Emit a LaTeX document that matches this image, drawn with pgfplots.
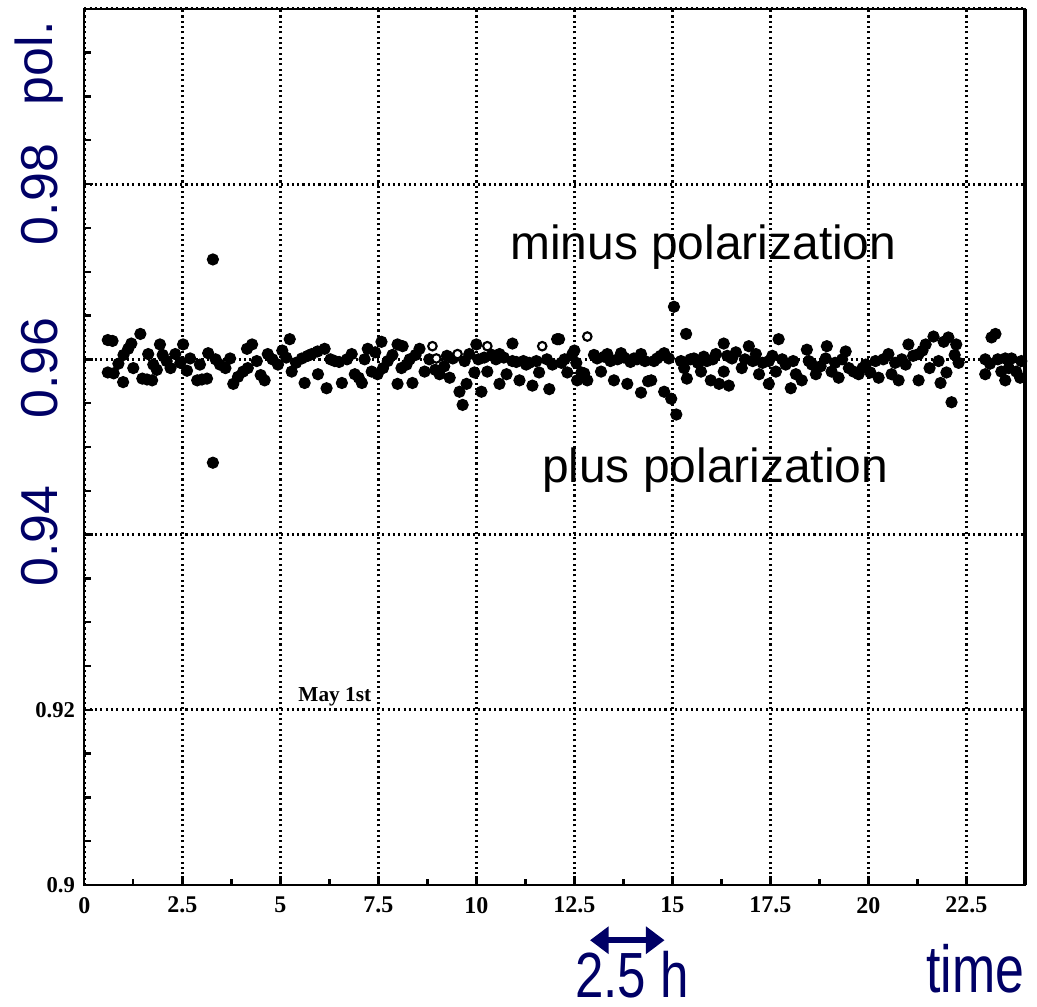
\documentclass[border=0pt]{standalone}
\usepackage{pgfplots}
\pgfplotsset{compat=1.18}
\usepackage{fontspec}
\setmainfont{Liberation Serif}
\newfontfamily\arial{Liberation Sans}
\usetikzlibrary{arrows.meta}
\definecolor{navy}{RGB}{0,0,102}

\begin{document}
\begin{tikzpicture}
\begin{axis}[
  scale only axis,
  width=353.6pt, height=329.25pt,
  xmin=0, xmax=24, ymin=0.9, ymax=1.0,
  clip=false,
  axis line style={line width=0.9pt},
  xtick={0,2.5,5,7.5,10,12.5,15,17.5,20,22.5},
  xticklabels={0,2.5,5,7.5,10,12.5,15,17.5,20,22.5},
  minor x tick num=1,
  ytick={0.9,0.92,0.94,0.96,0.98,1.0},
  yticklabels={0.9,0.92,,,,},
  minor y tick num=3,
  xtick pos=bottom, ytick pos=left,
  tick align=inside,
  major tick length=3.4pt, minor tick length=2.4pt,
  every tick/.style={line width=0.9pt, black},
  xmajorgrids, ymajorgrids,
  major grid style={line width=1.1pt, dash pattern=on 0.8pt off 1.2pt, black},
  extra x ticks={7.5,12.5},
  extra x tick labels={},
  extra x tick style={grid style={line width=1.7pt, dash pattern=on 0.9pt off 1.1pt, black}},
  /pgf/number format/assume math mode=true,
  ticklabel style={font=\fontsize{8.5}{8.5}\selectfont\bfseries},
  xticklabel style={font=\fontsize{9}{9}\selectfont\bfseries, yshift=-1pt},
]
% bounding box matching the reference proportions
\path (axis cs:-2.15,0.8862) rectangle (axis cs:24.3,1.0010);
\draw[line width=1.4pt] (rel axis cs:1,0) -- (rel axis cs:1,1);

\addplot[only marks, mark=*, mark size=2.1pt, black] coordinates {
(0.60,0.9622)(0.72,0.9621)(0.60,0.9585)(0.75,0.9584)(0.99,0.9574)(0.87,0.9595)(1.00,0.9605)(1.12,0.9612)(1.20,0.9618)
(1.43,0.9629)(1.25,0.9590)(1.48,0.9578)(1.60,0.9577)(1.73,0.9576)(1.93,0.9617)(1.63,0.9606)(1.76,0.9594)(1.85,0.9588)
(2.10,0.9598)(2.00,0.9605)(2.20,0.9590)(2.32,0.9606)(2.45,0.9596)(2.52,0.9617)(2.70,0.9601)(2.62,0.9587)(2.88,0.9576)
(3.00,0.9577)(3.13,0.9578)(3.16,0.9607)(2.95,0.9594)(3.28,0.9714)(3.28,0.9482)(3.35,0.9600)(3.46,0.9594)(3.60,0.9590)
(3.72,0.9601)(3.80,0.9572)(3.92,0.9580)(4.05,0.9586)(4.15,0.9612)(4.28,0.9617)(4.17,0.9590)(4.40,0.9598)(4.50,0.9582)
(4.60,0.9576)(4.68,0.9606)(4.80,0.9600)(4.94,0.9594)(5.05,0.9610)(5.24,0.9623)(5.15,0.9602)(5.29,0.9586)(5.40,0.9596)
(5.62,0.9573)(5.55,0.9601)(5.70,0.9604)(5.80,0.9606)(5.95,0.9609)(6.13,0.9612)(5.96,0.9583)(6.18,0.9567)(6.28,0.9600)
(6.39,0.9598)(6.50,0.9597)(6.57,0.9573)(6.70,0.9600)(6.82,0.9606)(6.90,0.9583)(7.00,0.9579)(7.08,0.9573)(7.15,0.9600)
(7.23,0.9612)(7.33,0.9586)(7.42,0.9608)(7.58,0.9620)(7.48,0.9583)(7.62,0.9590)(7.74,0.9598)(7.86,0.9605)(7.99,0.9617)
(7.99,0.9572)(8.09,0.9590)(8.12,0.9615)(8.22,0.9594)(8.30,0.9600)(8.37,0.9573)(8.45,0.9605)(8.55,0.9612)(8.68,0.9586)
(8.80,0.9600)(8.95,0.9588)(9.06,0.9583)(9.18,0.9592)(9.32,0.9579)(9.40,0.9601)(9.25,0.9604)(9.65,0.9548)(9.57,0.9563)
(9.75,0.9572)(9.82,0.9606)(9.70,0.9598)(10.00,0.9617)(9.95,0.9585)(10.05,0.9600)(10.13,0.9563)(10.20,0.9602)(10.28,0.9586)
(10.40,0.9605)(10.50,0.9600)(10.59,0.9606)(10.59,0.9572)(10.70,0.9602)(10.77,0.9583)(10.92,0.9618)(10.92,0.9598)(11.02,0.9597)
(11.10,0.9576)(11.20,0.9598)(11.27,0.9594)(11.35,0.9596)(11.43,0.9570)(11.53,0.9598)(11.60,0.9585)(11.86,0.9566)(11.94,0.9594)
(11.80,0.9600)(12.06,0.9623)(12.11,0.9623)(12.17,0.9596)(12.25,0.9600)(12.32,0.9585)(12.45,0.9606)(12.50,0.9610)(12.55,0.9596)
(12.57,0.9576)(12.68,0.9585)(12.75,0.9584)(12.83,0.9576)(13.00,0.9605)(13.08,0.9601)(13.18,0.9586)(13.26,0.9603)(13.34,0.9606)
(13.42,0.9598)(13.51,0.9576)(13.60,0.9600)(13.69,0.9607)(13.77,0.9602)(13.85,0.9572)(13.93,0.9597)(14.02,0.9601)(14.10,0.9600)
(14.20,0.9606)(14.20,0.9562)(14.30,0.9598)(14.38,0.9575)(14.46,0.9576)(14.53,0.9598)(14.61,0.9601)(14.70,0.9604)(14.79,0.9607)
(14.79,0.9563)(14.91,0.9601)(14.97,0.9555)(15.04,0.9660)(15.10,0.9537)(15.22,0.9598)(15.30,0.9590)(15.37,0.9578)(15.46,0.9600)
(15.55,0.9601)(15.65,0.9596)(15.73,0.9586)(15.88,0.9598)(15.98,0.9576)(15.80,0.9603)(15.35,0.9629)(16.03,0.9600)(16.11,0.9606)
(16.19,0.9572)(16.31,0.9618)(16.31,0.9586)(16.44,0.9570)(16.40,0.9604)(16.52,0.9601)(16.62,0.9608)(16.77,0.9590)(16.85,0.9600)
(16.95,0.9615)(17.05,0.9598)(17.13,0.9606)(17.21,0.9583)(17.30,0.9596)(17.46,0.9598)(17.46,0.9572)(17.55,0.9604)(17.71,0.9623)
(17.64,0.9586)(17.80,0.9600)(17.89,0.9594)(18.02,0.9567)(18.08,0.9598)(18.15,0.9583)(18.30,0.9576)(18.43,0.9611)(18.48,0.9598)
(18.56,0.9594)(18.66,0.9583)(18.78,0.9592)(18.94,0.9615)(18.91,0.9601)(19.06,0.9586)(19.15,0.9596)(19.24,0.9579)(19.33,0.9600)
(19.42,0.9609)(19.50,0.9590)(19.62,0.9586)(19.75,0.9583)(19.85,0.9590)(19.93,0.9594)(20.05,0.9585)(20.18,0.9598)(20.26,0.9579)
(20.38,0.9600)(20.51,0.9606)(20.59,0.9583)(20.68,0.9596)(20.77,0.9576)(20.85,0.9600)(20.95,0.9594)(21.02,0.9617)(21.14,0.9604)
(21.28,0.9606)(21.28,0.9576)(21.38,0.9610)(21.46,0.9617)(21.56,0.9590)(21.66,0.9626)(21.79,0.9598)(21.84,0.9573)(21.92,0.9620)
(21.99,0.9585)(22.04,0.9625)(22.12,0.9551)(22.24,0.9617)(22.30,0.9596)(22.20,0.9605)
(22.98,0.9600)(23.14,0.9625)(23.24,0.9629)(22.98,0.9583)(23.10,0.9595)(23.39,0.9586)(23.49,0.9601)(23.65,0.9601)(23.49,0.9576)
(23.58,0.9590)(23.77,0.9586)(23.90,0.9598)(23.87,0.9579)(23.30,0.9600)
};
\addplot[only marks, mark=*, mark size=1.6pt, black, mark options={line width=0.8pt, fill=white}] coordinates {
(8.88,0.9615)(8.98,0.9601)(9.52,0.9606)(10.28,0.9615)(11.68,0.9615)(12.83,0.9626)
};

\node[font=\fontsize{8}{8}\selectfont\bfseries] at (axis cs:6.39,0.9215) {May 1st};
\node[font=\arial\fontsize{18}{18}\selectfont] at (axis cs:15.79,0.9728) {minus polarization};
\node[font=\arial\fontsize{18}{18}\selectfont] at (axis cs:16.09,0.9474) {plus polarization};

\node[rotate=90, text=navy, font=\arial\fontsize{19.5}{19.5}\selectfont] at (axis cs:-1.15,0.9938) {pol.};
\node[rotate=90, text=navy, font=\arial\fontsize{19.5}{19.5}\selectfont] at (axis cs:-1.15,0.9788) {0.98};
\node[rotate=90, text=navy, font=\arial\fontsize{19.5}{19.5}\selectfont] at (axis cs:-1.15,0.9590) {0.96};
\node[rotate=90, text=navy, font=\arial\fontsize{19.5}{19.5}\selectfont] at (axis cs:-1.15,0.9398) {0.94};

\node[text=navy, font=\arial\fontsize{25}{25}\selectfont] at (axis cs:22.73,0.8905) {\scalebox{0.78}[1]{time}};
\node[text=navy, font=\arial\fontsize{24}{24}\selectfont] at (axis cs:13.97,0.8898) {\scalebox{0.8}[1]{2.5 h}};
\draw[navy, line width=2.2pt, {Triangle[length=7pt,width=10pt]}-{Triangle[length=7pt,width=10pt]}] (axis cs:12.9,0.8937) -- (axis cs:14.8,0.8937);
\end{axis}
\end{tikzpicture}
\end{document}
